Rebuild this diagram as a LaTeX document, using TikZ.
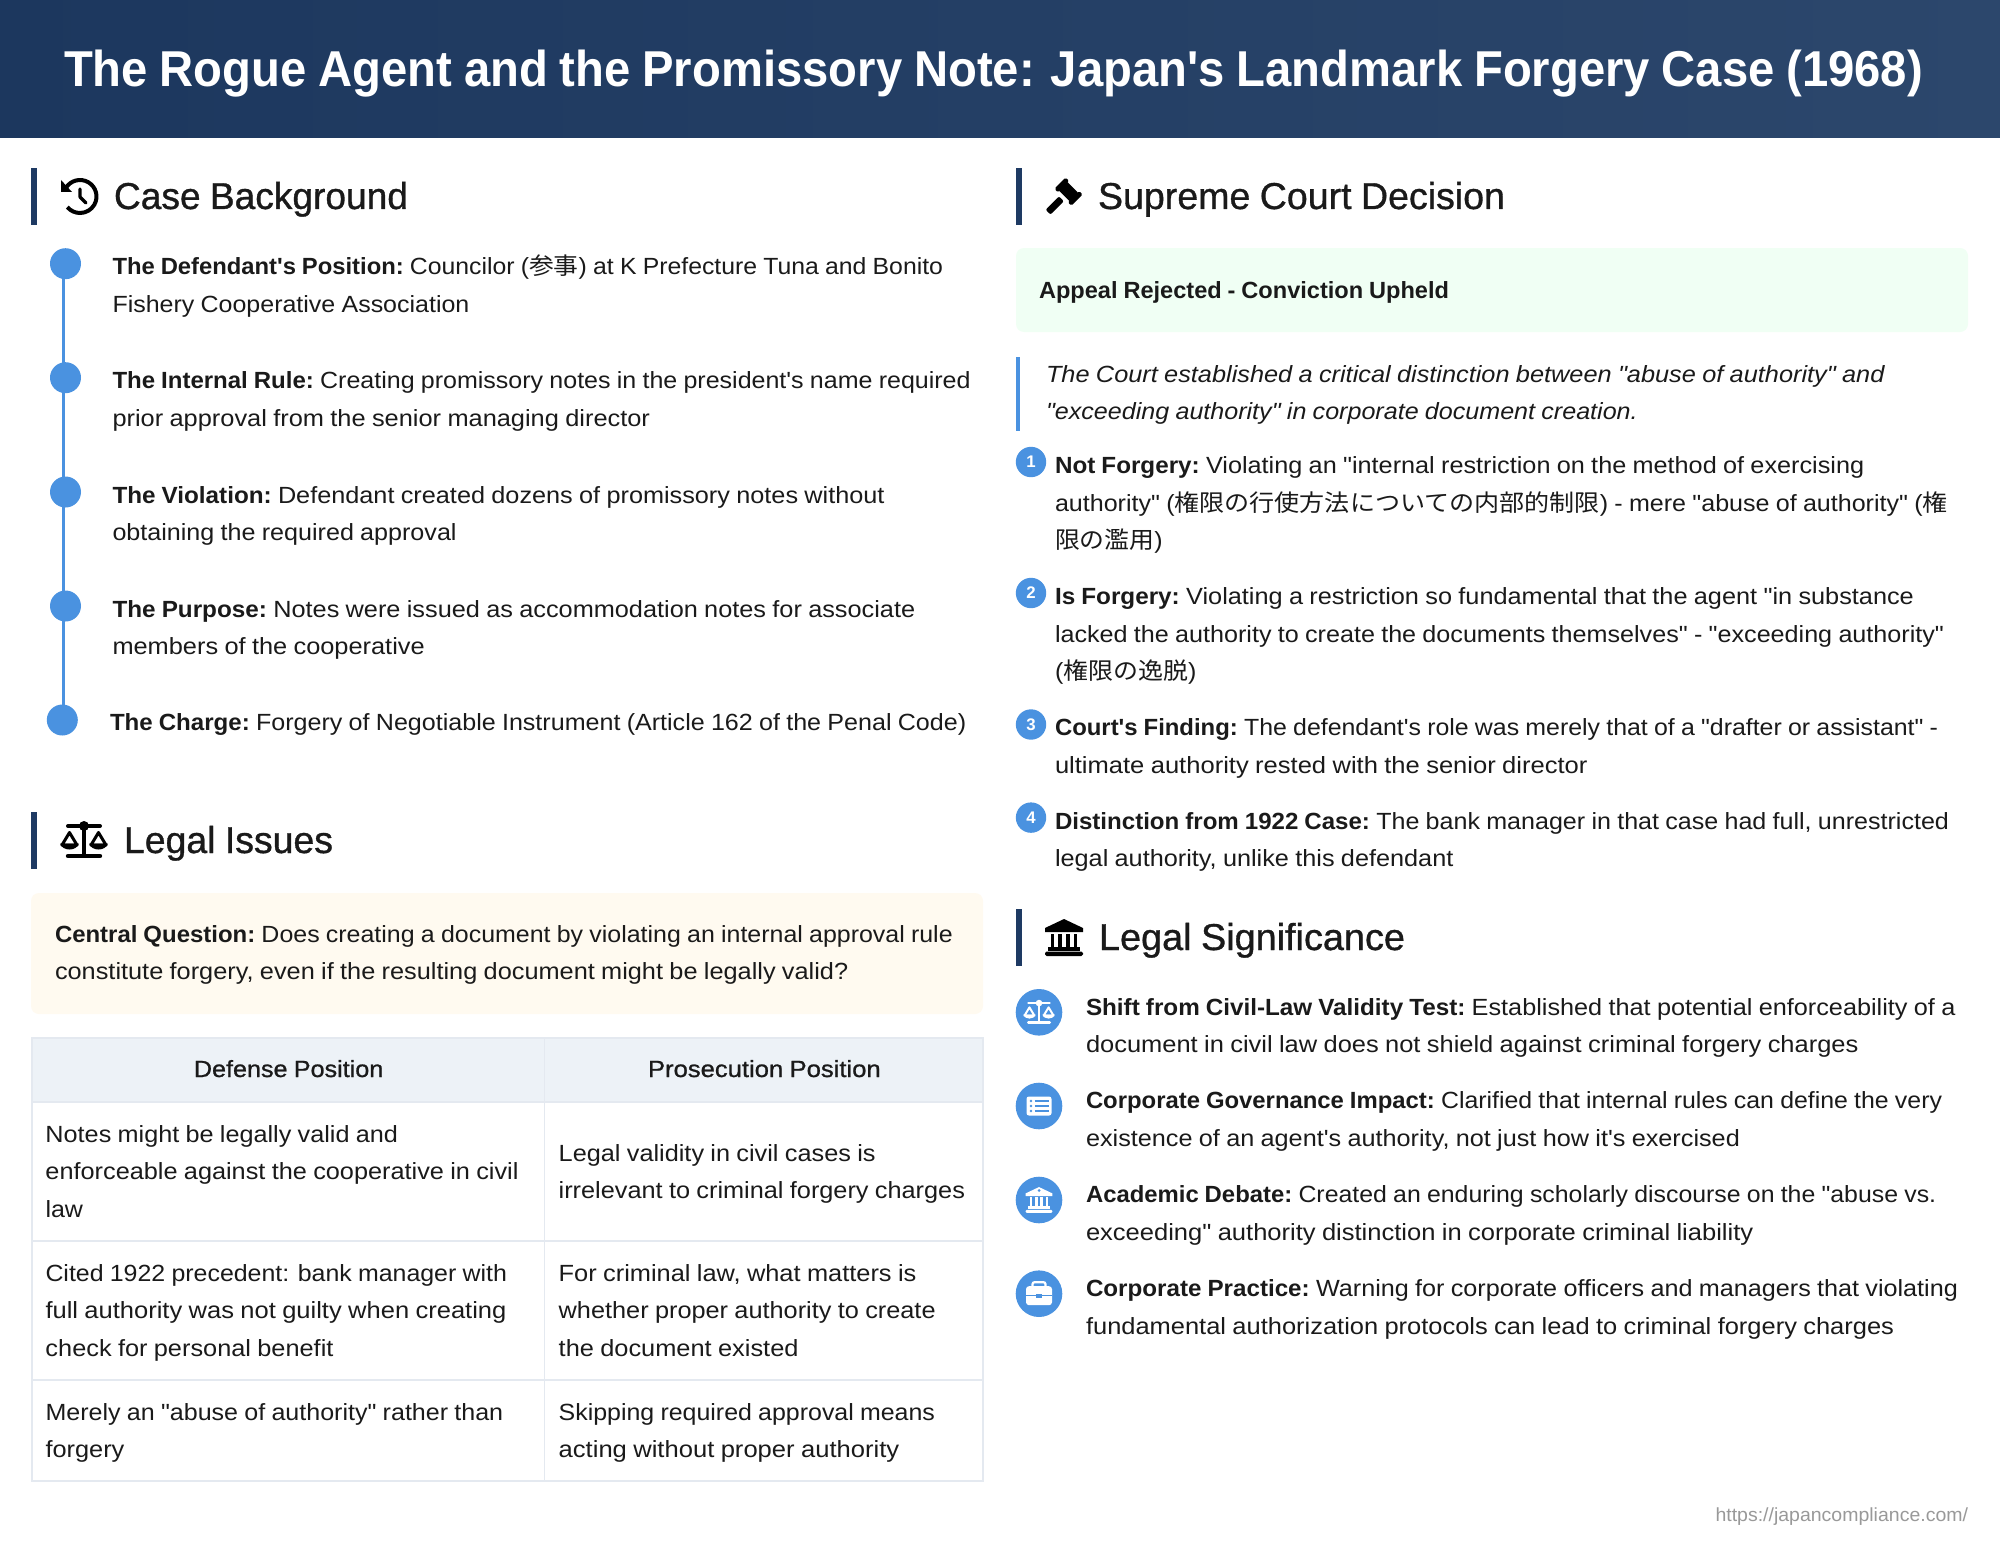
\documentclass[tikz,border=0pt]{standalone}
\usepackage{fontspec}
\usepackage{graphicx}
\newfontfamily\bodyf[WordSpace=0.9]{Liberation Sans}
\newfontfamily\medf[FakeBold=0.9,WordSpace=0.9]{Liberation Sans}
\newfontfamily\cjk{Noto Sans CJK JP}
\definecolor{navyA}{HTML}{1C375E}
\definecolor{navyB}{HTML}{2C476C}
\definecolor{navy}{HTML}{1E3A63}
\definecolor{accent}{HTML}{4A92E0}
\definecolor{ink}{HTML}{1A1A1A}
\definecolor{cream}{HTML}{FFFAF0}
\definecolor{mint}{HTML}{F0FFF4}
\definecolor{headfill}{HTML}{EDF2F7}
\definecolor{gridc}{HTML}{E4E9F0}
\definecolor{urlc}{HTML}{999999}
\newcommand{\jp}[1]{{\cjk #1}}
\newcommand{\bb}[1]{\scalebox{0.96}[1]{\bfseries #1}}
\newcommand{\txtline}[2]{\hbox{\vrule height13pt depth5.75pt width0pt\resizebox{\dimexpr(#1pt-\curx pt)/2\relax}{\height}{#2}}}
\newcommand{\txtpara}[4]{\def\curx{#2}\node[textn,anchor=north west] (#1) at (#2,#3-26) {\vbox{\offinterlineskip #4}};}
\newcommand{\fitnode}[6][]{\node[textn,#1,anchor=base west] (#2) at (#3,#5) {\resizebox{\dimexpr(#4pt-#3pt)/2\relax}{\height}{#6}};}
\newcommand{\headbar}[2]{\fill[navy] (#1,#2) rectangle (#1+6,#2+57);}
% icons: x, y, scale, colour
\newcommand{\icoscales}[4]{\begin{scope}[shift={(#1,#2)},scale=#3,draw=#4,fill=#4]
\draw[line width=#3*2pt,line cap=round] (-16,-14) -- (16,-14);
\fill (0,-14) circle[radius=5];
\draw[line width=#3*1.9pt] (0,-14) -- (0,16);
\draw[line width=#3*2.2pt,line cap=round] (-16,16) -- (16,16);
\foreach \sx in {-14.5,14.5}{
\draw[line width=#3*1.5pt,line join=round] (\sx,-7.5) -- (\sx-7.5,5) -- (\sx+7.5,5) -- cycle;
\fill (\sx-9.5,3.5) .. controls (\sx-7,11.5) and (\sx+7,11.5) .. (\sx+9.5,3.5) -- cycle;}
\end{scope}}
\newcommand{\icolandmark}[4]{\begin{scope}[shift={(#1,#2)},scale=#3,fill=#4]
\fill (0,-18.5) -- (19,-9.5) -- (19,-5.5) -- (-19,-5.5) -- (-19,-9.5) -- cycle;
\foreach \cx in {-11.5,-3.8,3.8,11.5}{\fill (\cx-1.9,-4) rectangle (\cx+1.9,9.5);}
\fill (-16,9) rectangle (16,13);
\fill[rounded corners=#3*0.8pt] (-19,14) rectangle (19,18.5);
\end{scope}}
\newcommand{\icolist}[4]{\begin{scope}[shift={(#1,#2)},scale=#3]
\fill[#4,rounded corners=1.2pt] (-12.5,-9.5) rectangle (12.5,9.5);
\foreach \ly in {-5,0,5}{\fill[accent] (-8,\ly) circle[radius=1.4];
\draw[accent,line width=0.75pt] (-4.5,\ly) -- (9.5,\ly);}
\end{scope}}
\newcommand{\icobrief}[4]{\begin{scope}[shift={(#1,#2)},scale=#3]
\draw[#4,line width=1.1pt,rounded corners=1pt] (-6.5,-7) -- (-6.5,-11.5) -- (6.5,-11.5) -- (6.5,-7);
\fill[#4,rounded corners=1.5pt] (-13,-7.5) rectangle (13,11.5);
\draw[accent,line width=0.6pt] (-13,1.5) -- (13,1.5);
\fill[accent] (-3,0) rectangle (3,4);
\end{scope}}
\tikzset{
 textn/.style={inner sep=0pt,outer sep=0pt,text=ink,font=\bodyf\fontsize{11.7}{14}\selectfont},
 headn/.style={font=\medf\fontsize{18.7}{22}\selectfont},
 theadn/.style={font=\medf\fontsize{11.7}{14}\selectfont},
 titlen/.style={text=white,font=\bodyf\bfseries\fontsize{25.2}{30}\selectfont},
 urln/.style={text=urlc,font=\bodyf\fontsize{9.5}{12}\selectfont},
 dotn/.style={circle,fill=accent,minimum size=15.5pt,inner sep=0pt,outer sep=0pt},
 numn/.style={circle,fill=accent,minimum size=15.2pt,inner sep=0pt,outer sep=0pt,text=white,font=\bodyf\bfseries\fontsize{8.4}{10}\selectfont},
 sign/.style={circle,fill=accent,minimum size=23.3pt,inner sep=0pt,outer sep=0pt},
 tline/.style={accent,line width=1.8pt},
 grid/.style={gridc,line width=0.85pt}
}
\begin{document}
\begin{tikzpicture}[x=0.5pt,y=-0.5pt]
\useasboundingbox (0,0) rectangle (2000,1546);
\fill[white] (0,0) rectangle (2000,1546);
\shade[left color=navyA,right color=navyB] (0,0) rectangle (2000,138);
\fitnode[titlen]{title}{64}{1923}{87}{The Rogue Agent and the Promissory Note: Japan's Landmark Forgery Case (1968)}

% --- Case Background
\headbar{31}{168}
\begin{scope}[black]
\draw[line width=2pt] (80,196.5) ++(150:8.25pt) arc[start angle=150,end angle=-140,radius=8.25pt];
\fill (61,180) -- (72,192) -- (61,192) -- cycle;
\draw[line width=1.6pt,line cap=round,line join=round] (80,189) -- (80,197) -- (86,203);
\end{scope}
\fitnode[headn]{hcase}{114}{408}{209}{Case Background}
\node[dotn] (d1) at (65.5,263.7) {};
\node[dotn] (d2) at (65.5,377.7) {};
\node[dotn] (d3) at (65.5,492) {};
\node[dotn] (d4) at (65.5,606) {};
\node[dotn] (d5) at (62.3,720) {};
\draw[tline] ([xshift=-1pt]d1.center) -- ([xshift=-1pt]d2.center);
\draw[tline] ([xshift=-1pt]d2.center) -- ([xshift=-1pt]d3.center);
\draw[tline] ([xshift=-1pt]d3.center) -- ([xshift=-1pt]d4.center);
\draw[tline] ([xshift=-1pt]d4.center) -- ([xshift=0.6pt]d5.center);
\txtpara{tl1}{112.5}{275}{\txtline{943}{\bb{The Defendant's Position:} Councilor (\jp{参事}) at K Prefecture Tuna and Bonito}\txtline{469.4}{Fishery Cooperative Association}}
\txtpara{tl2}{112.5}{388.5}{\txtline{970.6}{\bb{The Internal Rule:} Creating promissory notes in the president's name required}\txtline{650}{prior approval from the senior managing director}}
\txtpara{tl3}{112.5}{503}{\txtline{884.5}{\bb{The Violation:} Defendant created dozens of promissory notes without}\txtline{456.6}{obtaining the required approval}}
\txtpara{tl4}{112.5}{617}{\txtline{915.2}{\bb{The Purpose:} Notes were issued as accommodation notes for associate}\txtline{424.7}{members of the cooperative}}
\txtpara{tl5}{110}{730.5}{\txtline{966.2}{\bb{The Charge:} Forgery of Negotiable Instrument (Article 162 of the Penal Code)}}

% --- Legal Issues
\headbar{31}{812}
\icoscales{84}{840}{1}{black}
\fitnode[headn]{hissues}{124}{333}{853}{Legal Issues}
\fill[cream,rounded corners=4pt] (31,893) rectangle (983,1014);
\txtpara{cq}{55}{942}{\txtline{952.8}{\bb{Central Question:} Does creating a document by violating an internal approval rule}\txtline{848.2}{constitute forgery, even if the resulting document might be legally valid?}}
% table
\fill[headfill] (31,1037) rectangle (983,1102);
\draw[grid] (32,1038) rectangle (983,1481);
\draw[grid] (32,1102) -- (983,1102);
\draw[grid] (32,1241) -- (983,1241);
\draw[grid] (32,1380) -- (983,1380);
\draw[grid] (544.5,1038) -- (544.5,1481);
\fitnode[theadn]{th1}{193.9}{383.3}{1077}{Defense Position}
\fitnode[theadn]{th2}{648}{880.7}{1077}{Prosecution Position}
\txtpara{c11}{45.5}{1142}{\txtline{398}{Notes might be legally valid and}\txtline{518.5}{enforceable against the cooperative in civil}\txtline{83}{law}}
\txtpara{c12}{558.7}{1161}{\txtline{875.6}{Legal validity in civil cases is}\txtline{965}{irrelevant to criminal forgery charges}}
\txtpara{c21}{45.5}{1281}{\txtline{507}{Cited 1922 precedent: bank manager with}\txtline{506.4}{full authority was not guilty when creating}\txtline{333.5}{check for personal benefit}}
\txtpara{c22}{558.7}{1281}{\txtline{916.4}{For criminal law, what matters is}\txtline{935.6}{whether proper authority to create}\txtline{798.5}{the document existed}}
\txtpara{c31}{45.5}{1420}{\txtline{503.2}{Merely an "abuse of authority" rather than}\txtline{124.4}{forgery}}
\txtpara{c32}{558.7}{1420}{\txtline{935}{Skipping required approval means}\txtline{899.2}{acting without proper authority}}

% --- Supreme Court Decision
\headbar{1016}{168}
\begin{scope}[shift={(1068.5,191.7)},rotate=-45,black]
\fill[rounded corners=0.6pt] (-8,-6) rectangle (8,6);
\fill[rounded corners=0.8pt] (-12,-8) rectangle (-7,8);
\fill[rounded corners=0.8pt] (7,-8) rectangle (12,8);
\fill[rounded corners=1pt] (-3.5,10) rectangle (3.5,29);
\end{scope}
\fitnode[headn]{hcourt}{1098}{1505}{209}{Supreme Court Decision}
\fill[mint,rounded corners=4pt] (1016,248) rectangle (1968,332);
\fitnode[]{appeal}{1039}{1449}{298}{\bb{Appeal Rejected - Conviction Upheld}}
\fill[accent] (1016,357) rectangle (1020,431);
\txtpara{quote}{1046}{382}{\itshape\txtline{1884.5}{The Court established a critical distinction between "abuse of authority" and}\txtline{1637.7}{"exceeding authority" in corporate document creation.}}
\node[numn] (n1) at (1031,462) {1};
\node[numn] (n2) at (1031,593) {2};
\node[numn] (n3) at (1031,724.5) {3};
\node[numn] (n4) at (1031,817.6) {4};
\txtpara{i1}{1055}{473.5}{\txtline{1864.2}{\bb{Not Forgery:} Violating an "internal restriction on the method of exercising}\txtline{1947.7}{authority" (\jp{権限の行使方法についての内部的制限}) - mere "abuse of authority" (\jp{権}}\txtline{1162.6}{\jp{限の濫用})}}
\txtpara{i2}{1055}{604.5}{\txtline{1913.9}{\bb{Is Forgery:} Violating a restriction so fundamental that the agent "in substance}\txtline{1943.9}{lacked the authority to create the documents themselves" - "exceeding authority"}\txtline{1196.4}{(\jp{権限の逸脱})}}
\txtpara{i3}{1055}{735.5}{\txtline{1938}{\bb{Court's Finding:} The defendant's role was merely that of a "drafter or assistant" -}\txtline{1587.4}{ultimate authority rested with the senior director}}
\txtpara{i4}{1055}{829}{\txtline{1949}{\bb{Distinction from 1922 Case:} The bank manager in that case had full, unrestricted}\txtline{1453.4}{legal authority, unlike this defendant}}

% --- Legal Significance
\headbar{1016}{909}
\icolandmark{1064}{937.5}{1}{black}
\fitnode[headn]{hsig}{1099}{1405}{950}{Legal Significance}
\node[sign] (s1) at (1039,1012.3) {};
\node[sign] (s2) at (1039,1106) {};
\node[sign] (s3) at (1039,1200) {};
\node[sign] (s4) at (1039,1293.7) {};
\icoscales{1039}{1012.3}{0.66}{white}
\icolist{1039}{1106}{1}{white}
\icolandmark{1039}{1200}{0.7}{white}
\fill[accent] (1039,1190.5) circle[radius=1.5];
\icobrief{1039}{1293.7}{1}{white}
\txtpara{p1}{1086}{1015}{\txtline{1955.3}{\bb{Shift from Civil-Law Validity Test:} Established that potential enforceability of a}\txtline{1858.4}{document in civil law does not shield against criminal forgery charges}}
\txtpara{p2}{1086}{1108.7}{\txtline{1942}{\bb{Corporate Governance Impact:} Clarified that internal rules can define the very}\txtline{1739.8}{existence of an agent's authority, not just how it's exercised}}
\txtpara{p3}{1086}{1202.7}{\txtline{1936.2}{\bb{Academic Debate:} Created an enduring scholarly discourse on the "abuse vs.}\txtline{1753.2}{exceeding" authority distinction in corporate criminal liability}}
\txtpara{p4}{1086}{1296.7}{\txtline{1957.9}{\bb{Corporate Practice:} Warning for corporate officers and managers that violating}\txtline{1894}{fundamental authorization protocols can lead to criminal forgery charges}}

\fitnode[urln]{url}{1715.5}{1968}{1521.5}{https://japancompliance.com/}
\end{tikzpicture}
\end{document}
